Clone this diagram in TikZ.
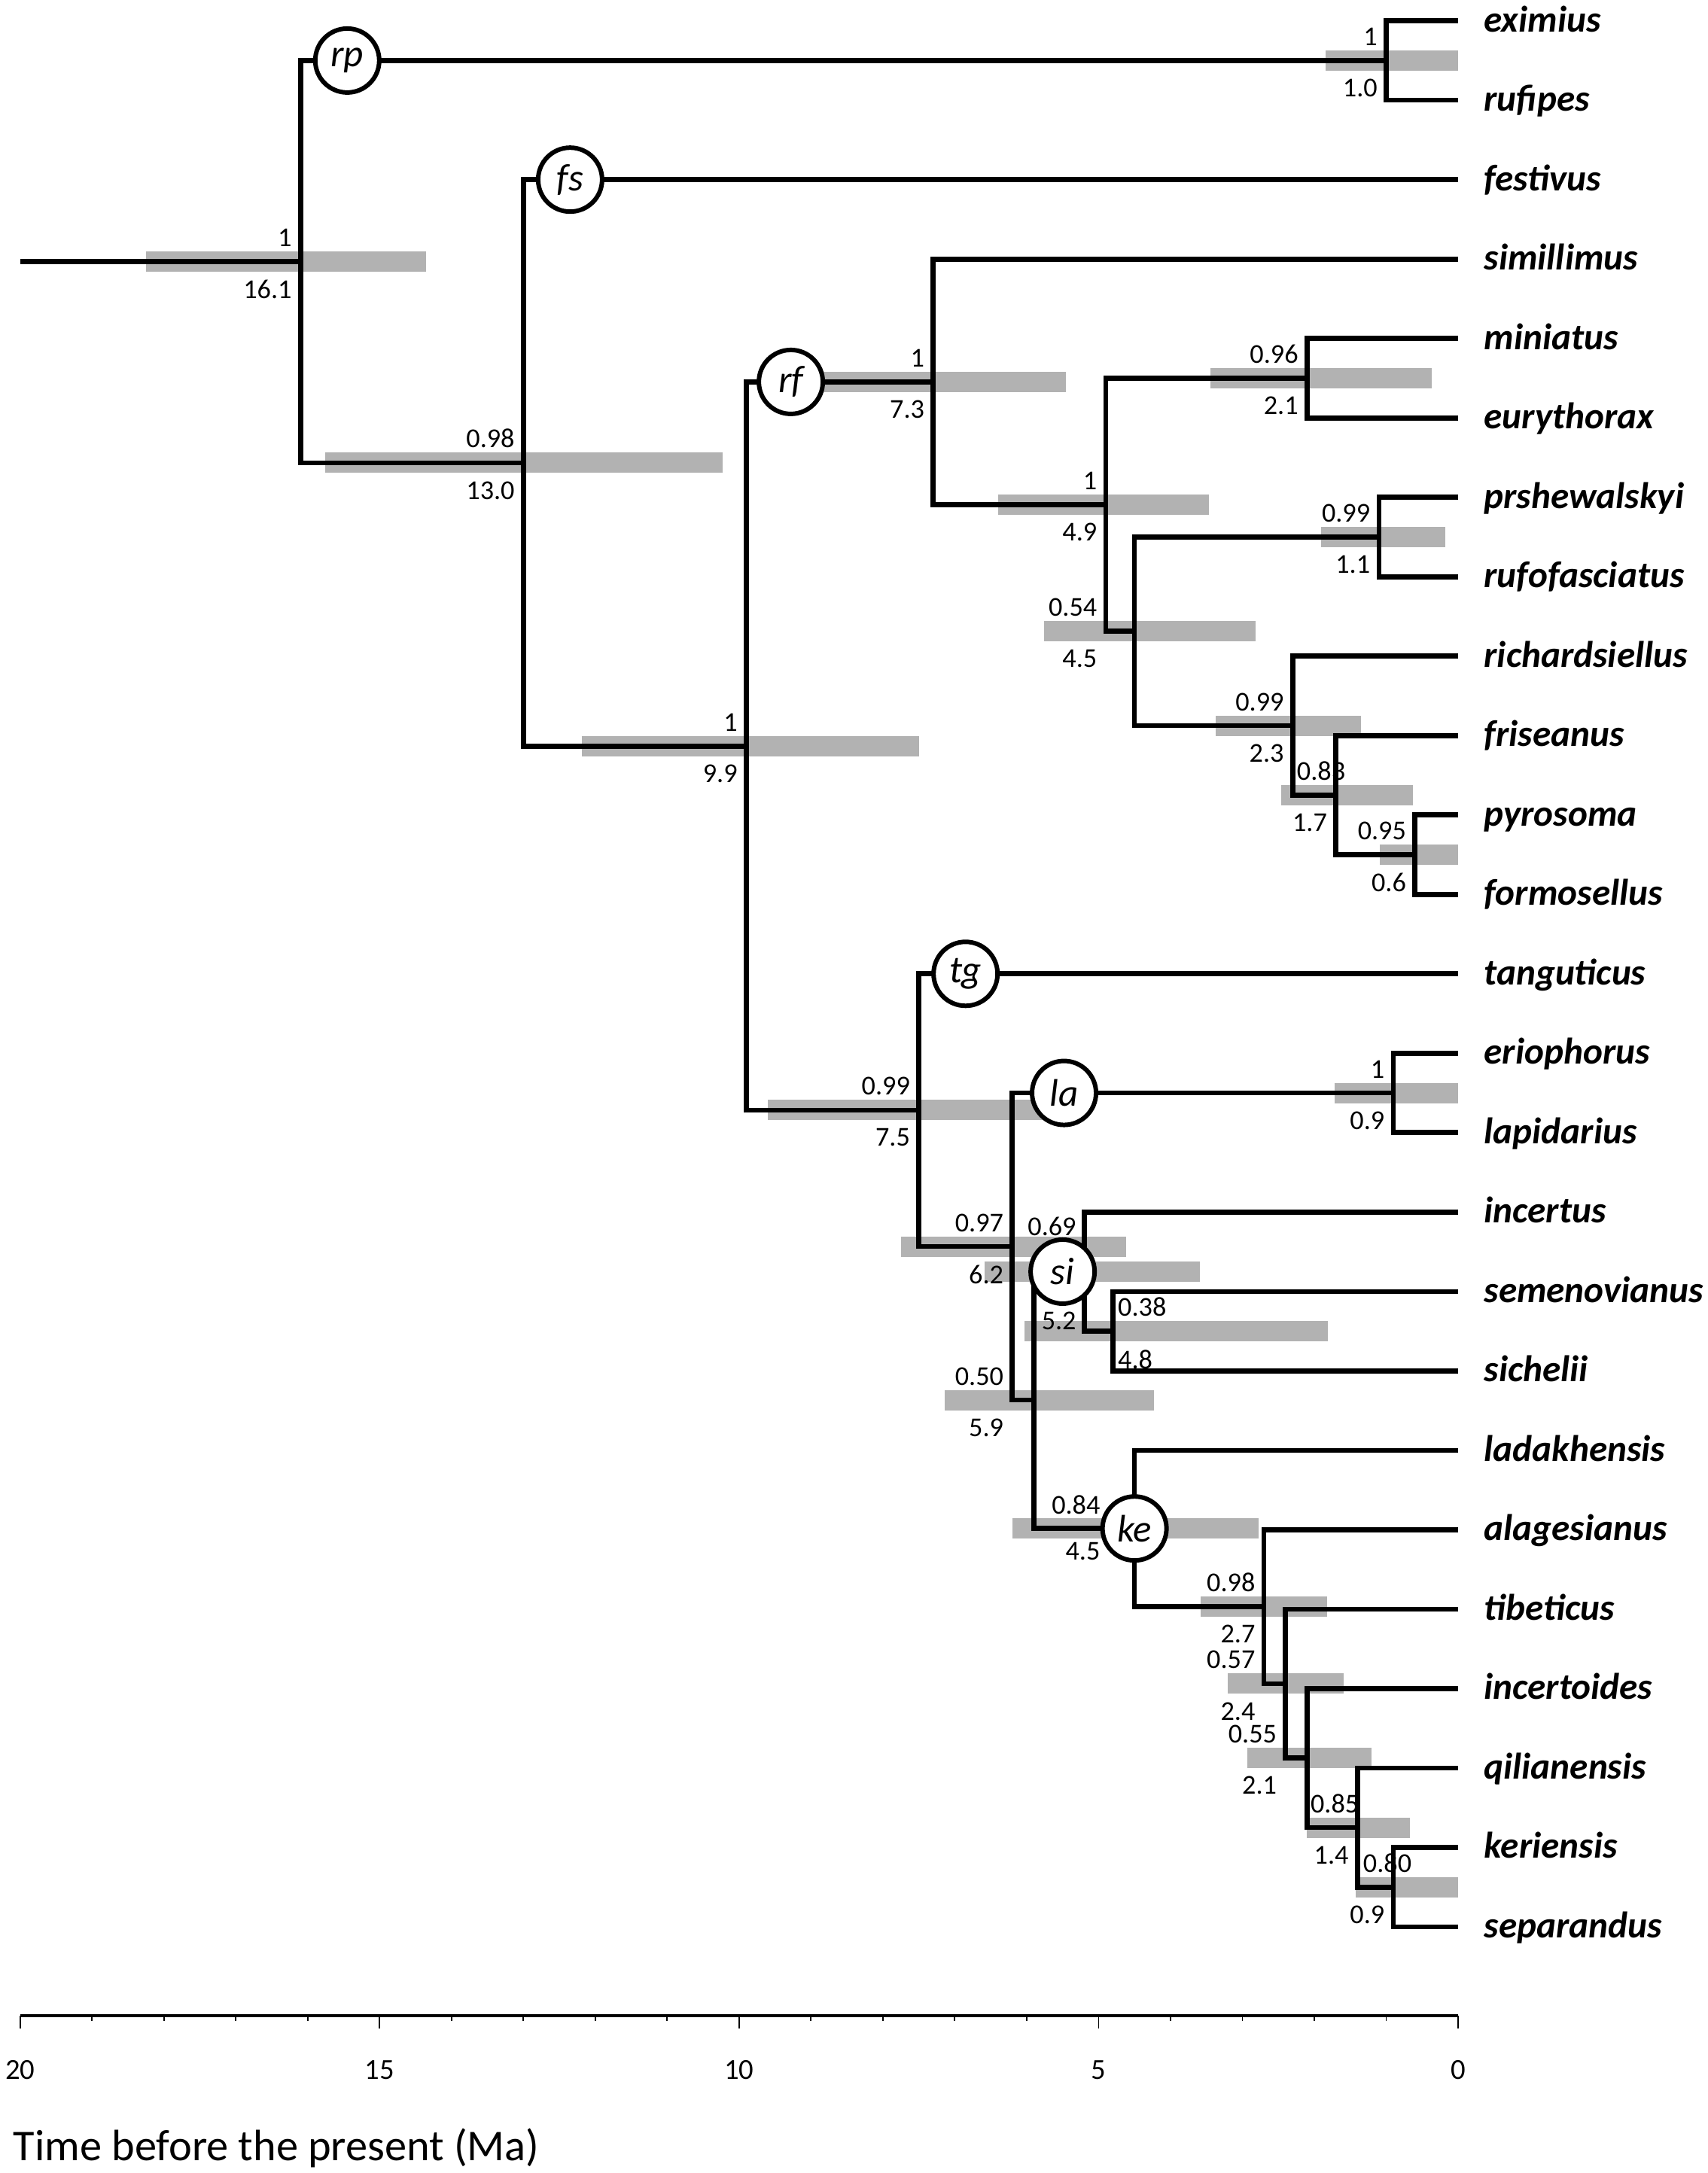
\documentclass[tikz,border=0pt]{standalone}
\usepackage{fontspec}
\setmainfont{Carlito}
\usetikzlibrary{calc}
\definecolor{barGrey}{HTML}{B2B2B2}
\tikzset{
  branch/.style   = {draw=black, line width=1.9pt},
  hpd/.style      = {draw=barGrey, line width=2.7mm},
  clade/.style    = {circle, draw=black, line width=1.7pt, fill=white, minimum size=8.5mm,
                     inner sep=0pt, font=\fontsize{14.5}{16}\selectfont\itshape},
  taxon/.style    = {anchor=base west, inner sep=0pt, font=\fontsize{14}{17}\selectfont\bfseries\itshape},
  post/.style     = {inner sep=0pt, font=\fontsize{10.3}{12}\selectfont},
  axisline/.style = {draw=black, line width=1.2pt},
  tick/.style     = {draw=black, line width=0.5pt},
  ticklab/.style  = {anchor=base, inner sep=0pt, font=\fontsize{11}{13}\selectfont},
  axtitle/.style  = {anchor=base west, inner sep=0pt, font=\fontsize{16.6}{19}\selectfont}
}

\begin{document}
\begin{tikzpicture}[x=-0.955cm, y=-1.055cm]
  \useasboundingbox (20.28,-0.262) rectangle (-3.466,27.10);

  % tips (time 0) and their names
  \foreach \tx [count=\r from 0] in {eximius, rufipes, festivus, simillimus, miniatus,
      eurythorax, prshewalskyi, rufofasciatus, richardsiellus, friseanus, pyrosoma,
      formosellus, tanguticus, eriophorus, lapidarius, incertus, semenovianus, sichelii,
      ladakhensis, alagesianus, tibeticus, incertoides, qilianensis, keriensis, separandus} {
    \coordinate (\tx) at (0,\r);
    \node[taxon] (lab-\tx) at ([xshift=3.4mm,yshift=-1.45mm]\tx) {\tx};
  }

  % internal nodes (age, row)
  \coordinate (stem)    at (20,3.033);
  \coordinate (root)    at (16.1,3.033);
  \coordinate (rpTop)   at (1.0,0.5);
  \coordinate (fsSplit) at (13.0,5.566);
  \coordinate (rfSplit) at (9.9,9.132);
  \coordinate (rfTop)   at (7.3,4.547);
  \coordinate (rfD)     at (4.9,6.094);
  \coordinate (miEu)    at (2.1,4.5);
  \coordinate (rfF)     at (4.5,7.688);
  \coordinate (prRu)    at (1.1,6.5);
  \coordinate (rfH)     at (2.3,8.875);
  \coordinate (rfI)     at (1.7,9.75);
  \coordinate (pyFo)    at (0.6,10.5);
  \coordinate (tgSplit) at (7.5,13.717);
  \coordinate (laSplit) at (6.2,15.434);
  \coordinate (laTop)   at (0.9,13.5);
  \coordinate (keSplit) at (5.9,17.367);
  \coordinate (siTop)   at (5.2,15.75);
  \coordinate (seSi)    at (4.8,16.5);
  \coordinate (keTop)   at (4.5,18.984);
  \coordinate (keN)     at (2.7,19.969);
  \coordinate (keO)     at (2.4,20.938);
  \coordinate (keP)     at (2.1,21.875);
  \coordinate (keQ)     at (1.4,22.75);
  \coordinate (keR)     at (0.9,23.5);
  % label anchors beside a parent's vertical
  \coordinate (Fref) at (rfD |- rfF);
  \coordinate (Lref) at (laSplit |- keSplit);
  \coordinate (Oref) at (keN |- keO);
  \coordinate (Pref) at (keO |- keP);

  % 95% HPD bars
  \foreach \nd/\lo/\hi in {root/18.25/14.35, fsSplit/15.76/10.23, rfSplit/12.19/7.5,
      rfTop/9/5.45, rfD/6.4/3.46, miEu/3.44/0.37, rpTop/1.84/0, prRu/1.9/0.18,
      rfF/5.76/2.82, rfH/3.37/1.35, rfI/2.46/0.63, pyFo/1.09/0, tgSplit/9.6/5.6,
      laTop/1.72/0, laSplit/7.75/4.62, siTop/6.59/3.59, seSi/6.03/1.81,
      keSplit/7.14/4.23, keTop/6.2/2.77, keN/3.58/1.82, keO/3.2/1.59,
      keP/2.93/1.2, keQ/2.1/0.67, keR/1.42/0}
    \draw[hpd] (\lo,0 |- \nd) -- (\hi,0 |- \nd);

  % posterior above, age below
  \foreach \at/\pp/\ag in {root/1/16.1, fsSplit/0.98/13.0, rfSplit/1/9.9, rfTop/1/7.3,
      rfD/1/4.9, miEu/0.96/2.1, prRu/0.99/1.1, rfH/0.99/2.3, pyFo/0.95/0.6,
      rpTop/1/1.0, tgSplit/0.99/7.5, laTop/1/0.9, laSplit/0.97/6.2, keN/0.98/2.7,
      Fref/0.54/4.5, Lref/0.50/5.9, Oref/0.57/2.4, Pref/0.55/2.1} {
    \node[post, anchor=south east] (pp-\at) at ([xshift=-1.1mm,yshift=1.9mm]\at) {\pp};
    \node[post, anchor=north east] (ag-\at) at ([xshift=-1.1mm,yshift=-2.4mm]\at) {\ag};
  }
  \node[post, anchor=north east] (ag-rfI) at ([xshift=-1.1mm,yshift=-2.4mm]rfI) {1.7};
  \node[post, anchor=north east] (ag-keQ) at ([xshift=-1.1mm,yshift=-2.4mm]keQ) {1.4};
  \node[post, anchor=north east] (ag-keR) at ([xshift=-1.1mm,yshift=-2.4mm]keR) {0.9};
  \node[post, anchor=south west] (pp-rfI) at ([xshift=0.5mm,yshift=1.9mm]rfH |- rfI) {0.83};
  \node[post, anchor=south west] (pp-keQ) at ([xshift=0.4mm,yshift=1.9mm]keP |- keQ) {0.85};
  \node[post, anchor=south west] (pp-keR) at ([xshift=0.7mm,yshift=1.9mm]keQ |- keR) {0.80};
  \node[post, anchor=south west] (pp-seSi) at ([xshift=0.6mm,yshift=1.9mm]seSi) {0.38};
  \node[post, anchor=north west] (ag-seSi) at ([xshift=0.6mm,yshift=-2.4mm]seSi) {4.8};
  \node[post, anchor=south east] (pp-siTop) at ([xshift=-1mm,yshift=4.7mm]siTop) {0.69};
  \node[post, anchor=north east] (ag-siTop) at ([xshift=-1mm,yshift=-5.3mm]siTop) {5.2};
  \node[post, anchor=south east] (pp-keTop) at ([xshift=-4.5mm,yshift=1.8mm]keTop) {0.84};
  \node[post, anchor=north east] (ag-keTop) at ([xshift=-4.5mm,yshift=-1.8mm]keTop) {4.5};

  % branches
  \draw[branch] (stem) -- (root);
  \foreach \a/\b in {root/rpTop, root/fsSplit, rpTop/eximius, rpTop/rufipes,
      fsSplit/festivus, fsSplit/rfSplit, rfSplit/rfTop, rfSplit/tgSplit,
      rfTop/simillimus, rfTop/rfD, rfD/miEu, rfD/rfF, miEu/miniatus, miEu/eurythorax,
      rfF/prRu, rfF/rfH, prRu/prshewalskyi, prRu/rufofasciatus, rfH/richardsiellus,
      rfH/rfI, rfI/friseanus, rfI/pyFo, pyFo/pyrosoma, pyFo/formosellus,
      tgSplit/tanguticus, tgSplit/laSplit, laSplit/laTop, laSplit/keSplit,
      laTop/eriophorus, laTop/lapidarius, keSplit/siTop, keSplit/keTop,
      siTop/incertus, siTop/seSi, seSi/semenovianus, seSi/sichelii,
      keTop/ladakhensis, keTop/keN, keN/alagesianus, keN/keO, keO/tibeticus, keO/keP,
      keP/incertoides, keP/keQ, keQ/qilianensis, keQ/keR, keR/keriensis, keR/separandus}
    \draw[branch] (\a) |- (\b);

  % clade circles
  \node[clade] (c-rp) at (15.45,0.5) {rp};
  \node[clade] (c-fs) at (12.35,2) {fs};
  \node[clade] (c-rf) at (9.28,4.547) {rf};
  \node[clade] (c-tg) at (6.85,12) {tg};
  \node[clade] (c-la) at (5.48,13.5) {la};
  \node[clade] (c-si) at (5.5,15.75) {si};
  \node[clade] (c-ke) at (keTop) {ke};

  % time axis
  \coordinate (axL) at (20,25.12);
  \coordinate (axR) at (0,25.12);
  \draw[axisline] (axL) -- (axR);
  \foreach \t in {0,...,20}
    \draw[tick] (\t,25.12) -- ++(0pt,-0.7mm);
  \foreach \t in {0,5,...,20} {
    \draw[tick] (\t,25.12) -- ++(0pt,-1.7mm);
    \node[ticklab] (tl-\t) at (\t,25.92) {\t};
  }
  \node[axtitle] (axtitle) at (20.1,26.94) {Time before the present (Ma)};
\end{tikzpicture}
\end{document}
